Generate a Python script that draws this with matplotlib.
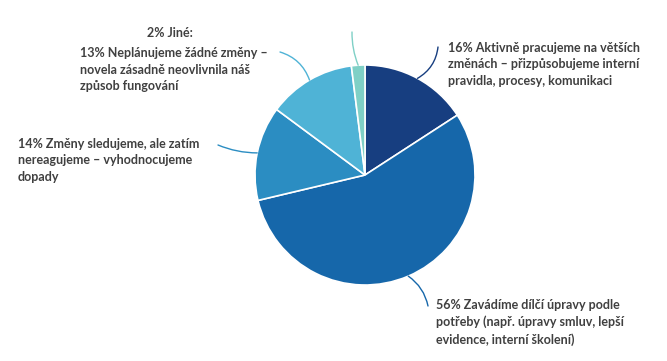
import numpy as np
import matplotlib
matplotlib.use("Agg")
import matplotlib.pyplot as plt

# data
values = [16, 56, 14, 13, 2]
labels = [
    "16% Aktivně pracujeme na větších\nzměnách – přizpůsobujeme interní\npravidla, procesy, komunikaci",
    "56% Zavádíme dílčí úpravy podle\npotřeby (např. úpravy smluv, lepší\nevidence, interní školení)",
    "14% Změny sledujeme, ale zatím\nnereagujeme – vyhodnocujeme\ndopady",
    "13% Neplánujeme žádné změny –\nnovela zásadně neovlivnila náš\nzpůsob fungování",
    "2% Jiné:",
]
colors = ["#173e80", "#1667aa", "#2b8dc2", "#4fb3d6", "#7fd0c6"]

W, H = 667, 361
fig = plt.figure(figsize=(W / 100, H / 100), dpi=100)
ax = fig.add_axes([0, 0, 1, 1])

cx, cy, r = 365, H - 175, 110
wedges, _ = ax.pie(values, colors=colors, startangle=90, counterclock=False,
                   center=(cx, cy), radius=r,
                   wedgeprops=dict(edgecolor="white", linewidth=1.2))
ax.set_xlim(0, W)
ax.set_ylim(0, H)
ax.axis("off")

# label layout (pixel positions from top-left) and leader line ends
text_pos = [(448, 42, "left", "top"), (436, 299, "left", "top"),
            (18, 138, "left", "top"), (80, 47, "left", "top"),
            (170, 33, "center", "center")]
line_end = [(438, 47), (428, 306), (218, 145), (280, 52), (352, 32)]
rads = [-0.25, 0.2, 0.1, -0.25, 0.1]

txt_color = "#404040"
for w, lab, (tx, ty, ha, va), (ex, ey), rad, col in zip(
        wedges, labels, text_pos, line_end, rads, colors):
    ax.text(tx, H - ty, lab, ha=ha, va=va, fontsize=9, color=txt_color,
            family="Lato", fontweight="bold", linespacing=1.45)
    th = np.deg2rad((w.theta1 + w.theta2) / 2)
    px, py = cx + r * np.cos(th), cy + r * np.sin(th)
    ax.annotate("", xy=(px, py), xytext=(ex, H - ey),
                arrowprops=dict(arrowstyle="-", color=col, lw=1.0,
                                shrinkA=0, shrinkB=0,
                                connectionstyle=f"arc3,rad={rad}"))

plt.savefig("out.png", dpi=100)
